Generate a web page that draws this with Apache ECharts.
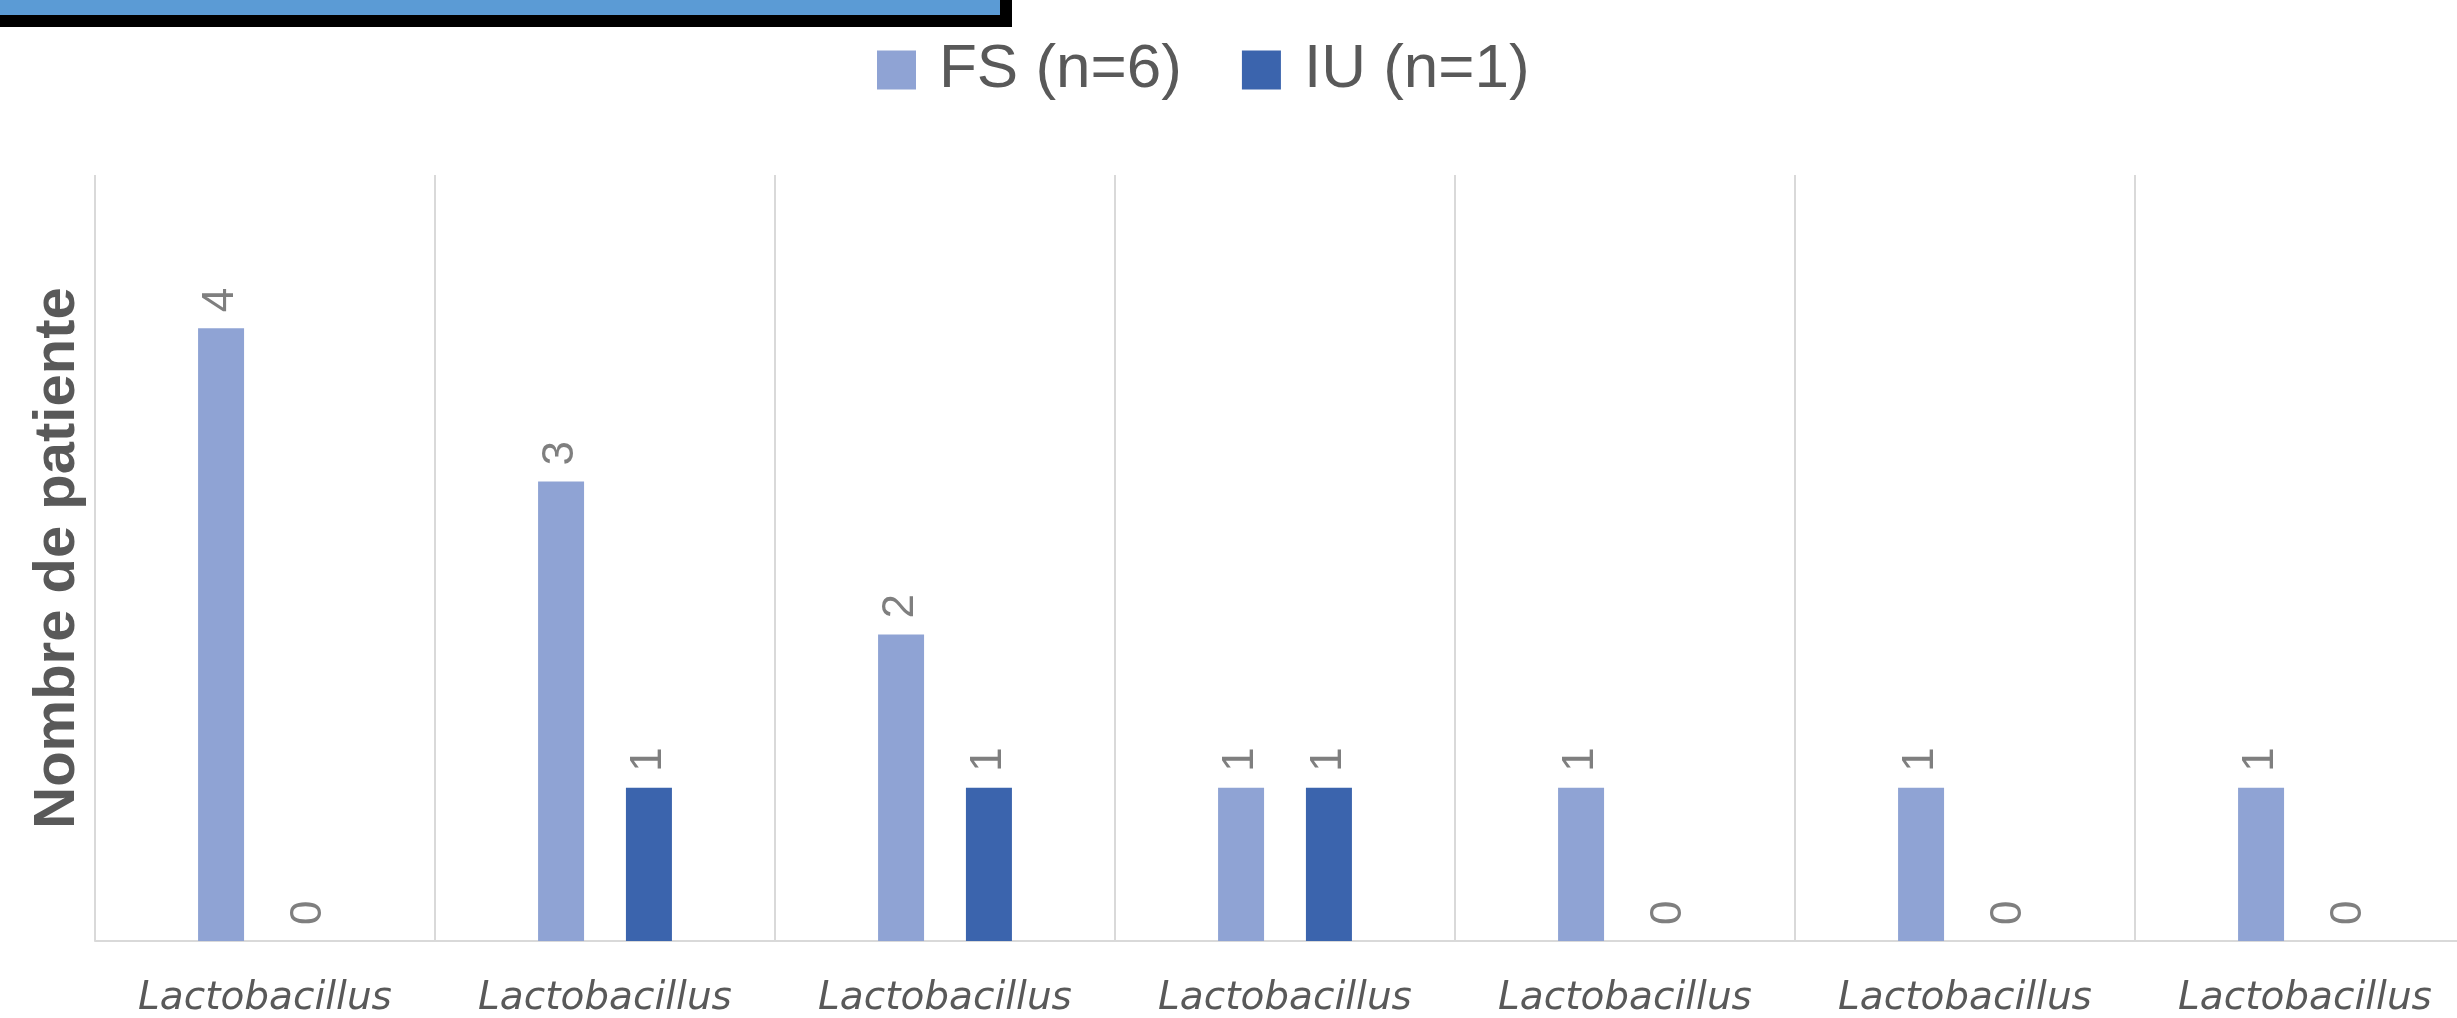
<!DOCTYPE html>
<html>
<head>
<meta charset="utf-8">
<script src="https://cdn.jsdelivr.net/npm/echarts@6/dist/echarts.min.js"></script>
<style>
html,body{margin:0;padding:0;background:#fff;}
#chart{width:2457px;height:1018px;}
</style>
</head>
<body>
<div id="chart"></div>
<script>
const categories = ['Lactobacillus','Lactobacillus','Lactobacillus','Lactobacillus','Lactobacillus','Lactobacillus','Lactobacillus'];
const seriesNames = ['FS (n=6)', 'IU (n=1)'];
const fsValues = [4, 3, 2, 1, 1, 1, 1];
const iuValues = [0, 1, 1, 1, 0, 0, 0];
const yAxisTitle = 'Nombre de patiente';

const chart = echarts.init(document.getElementById('chart'));
const labelStyle = {
  show: true,
  position: 'top',
  rotate: 90,
  align: 'left',
  verticalAlign: 'middle',
  distance: 16,
  color: '#7f7f7f',
  fontSize: 44,
  fontFamily: 'Liberation Sans, Arial, sans-serif'
};
chart.setOption({
  animation: false,
  backgroundColor: '#ffffff',
  graphic: [
    { type: 'rect', shape: { x: 0, y: 0, width: 1012, height: 27 }, style: { fill: '#000000' } },
    { type: 'rect', shape: { x: 0, y: 0, width: 1000, height: 15 }, style: { fill: '#5B9BD5' } }
  ],
  legend: {
    data: seriesNames,
    left: 872,
    top: 34,
    icon: 'rect',
    itemWidth: 39,
    itemHeight: 39,
    itemGap: 60,
    textStyle: {
      color: '#595959',
      fontSize: 62,
      lineHeight: 60,
      fontFamily: 'Liberation Sans, Arial, sans-serif',
      padding: [0, 0, 0, 18]
    }
  },
  grid: { left: 95, top: 175, width: 2380, height: 766, containLabel: false, outerBoundsMode: 'none' },
  xAxis: {
    type: 'category',
    data: categories,
    axisLine: { show: true, lineStyle: { color: '#d9d9d9', width: 2 } },
    axisTick: { show: false },
    splitLine: { show: true, lineStyle: { color: '#d9d9d9', width: 2 } },
    axisLabel: {
      interval: 0,
      margin: 38,
      color: '#595959',
      fontSize: 39,
      fontStyle: 'italic',
      fontFamily: 'DejaVu Sans, sans-serif'
    }
  },
  yAxis: {
    type: 'value',
    min: 0,
    max: 5,
    interval: 1,
    axisLine: { show: false },
    axisTick: { show: false },
    axisLabel: { show: false },
    splitLine: { show: false },
    name: yAxisTitle,
    nameLocation: 'middle',
    nameRotate: 90,
    nameGap: 8,
    nameTextStyle: {
      color: '#595959',
      fontSize: 58,
      fontWeight: 'bold',
      fontFamily: 'Liberation Sans, Arial, sans-serif'
    }
  },
  series: [
    {
      name: seriesNames[0],
      type: 'bar',
      data: fsValues,
      barWidth: 46,
      barGap: '91%',
      itemStyle: { color: '#8FA3D4' },
      label: labelStyle
    },
    {
      name: seriesNames[1],
      type: 'bar',
      data: iuValues,
      barWidth: 46,
      barGap: '91%',
      itemStyle: { color: '#3B64AD' },
      label: labelStyle
    }
  ]
});
</script>
</body>
</html>
